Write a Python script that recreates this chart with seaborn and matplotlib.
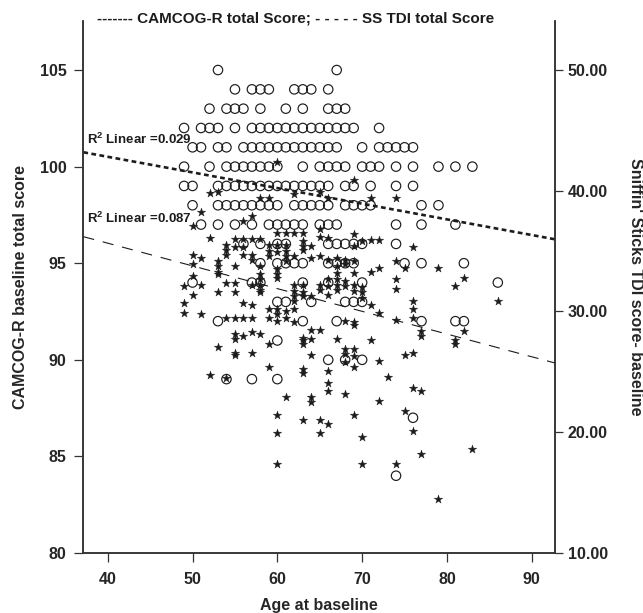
import matplotlib
matplotlib.use("Agg")
import matplotlib.pyplot as plt
import seaborn as sns
import pandas as pd
import numpy as np
from matplotlib.ticker import FormatStrFormatter

# CAMCOG-R baseline total score (open circles): one list of ages per score row
camcog_scores = [105, 104, 103, 102, 101, 100, 99, 98, 97, 96, 95, 94, 93, 92, 91, 90, 89, 87, 84]
camcog_ages = [
    [53, 67],
    [55, 57, 58, 59, 62, 63, 64, 66],
    [52, 54, 55, 56, 58, 61, 63, 66, 67, 68],
    [49, 51, 52, 53, 55, 57, 58, 59, 60, 61, 62, 63, 64, 65, 66, 67, 68, 69, 72],
    [50, 51, 53, 54, 56, 57, 58, 59, 60, 61, 62, 63, 64, 65, 66, 67, 70, 72, 73, 74, 75, 76],
    [49, 52, 54, 55, 56, 57, 58, 59, 60, 63, 65, 66, 67, 68, 70, 71, 72, 74, 76, 79, 81, 83],
    [49, 50, 53, 54, 55, 56, 57, 58, 59, 60, 61, 62, 63, 64, 65, 66, 68, 69, 71, 74, 76],
    [50, 53, 54, 55, 56, 57, 58, 59, 60, 62, 63, 64, 65, 66, 68, 69, 70, 71, 77, 79],
    [51, 53, 55, 57, 59, 60, 61, 62, 63, 65, 66, 67, 74, 77, 81],
    [56, 58, 60, 61, 66, 67, 68, 69, 70, 74],
    [58, 60, 61, 62, 63, 66, 67, 68, 69, 75, 77, 82],
    [50, 57, 58, 63, 66, 70, 86],
    [60, 61, 64, 68, 69, 70],
    [53, 63, 67, 77, 81, 82],
    [60],
    [66, 68, 70],
    [54, 57, 60],
    [76],
    [74],
]

# Sniffin' Sticks TDI score (stars): one list of scores per age
tdi_ages = [49, 50, 51, 52, 53, 54, 55, 56, 57, 58, 59, 60, 61, 62, 63, 64, 65, 66, 67,
            68, 69, 70, 71, 72, 73, 74, 75, 76, 77, 79, 81, 82, 83, 86]
tdi_scores = [
    [32.1, 30.7, 29.9],
    [37.1, 34.7, 33.9, 32.9, 31.4],
    [38.2, 34.4, 32.2, 29.8],
    [39.8, 36.1, 24.7],
    [39.9, 34.2, 33.8, 33.3, 33.1, 31.6, 27.1],
    [35.5, 35.1, 34.7, 32.4, 29.5, 24.5],
    [36.0, 35.3, 33.8, 32.4, 31.6, 29.5, 28.1, 27.7, 26.6, 26.4],
    [37.5, 36.0, 35.3, 34.7, 30.7, 29.5, 28.0],
    [37.9, 36.0, 34.7, 34.3, 32.2, 30.5, 29.5, 28.3, 26.6],
    [39.4, 36.0, 33.8, 33.1, 32.7, 32.2, 31.8, 31.6, 28.1],
    [39.4, 35.5, 35.0, 34.6, 30.2, 29.5, 27.3, 25.4],
    [42.4, 36.5, 35.5, 34.9, 33.5, 33.1, 32.8, 30.2, 29.8, 29.2, 21.4, 19.9, 17.4],
    [36.5, 35.5, 35.0, 34.6, 34.2, 30.0, 29.5, 22.9],
    [39.7, 36.5, 34.6, 32.2, 31.7, 31.3, 30.9, 30.2, 29.1],
    [36.5, 35.8, 35.4, 35.1, 32.2, 31.6, 31.3, 27.8, 27.6, 27.3, 25.2, 24.9, 21.0],
    [35.4, 34.4, 31.3, 28.5, 27.7, 26.4, 22.9, 22.5],
    [39.9, 36.8, 36.2, 34.6, 32.2, 31.8, 28.5, 21.0, 19.9],
    [39.4, 36.1, 34.3, 32.7, 32.1, 31.4, 25.1, 24.1, 23.4, 20.7],
    [34.4, 33.8, 33.2, 32.7, 32.2, 31.8, 27.7],
    [34.3, 33.9, 32.5, 32.1, 29.2, 26.9, 26.5, 25.8, 23.2],
    [40.9, 36.4, 35.4, 34.2, 33.2, 32.2, 31.7, 29.1, 28.9, 26.9, 26.3, 25.4, 21.4],
    [35.8, 32.0, 31.6, 31.1, 19.6, 17.4],
    [39.4, 35.9, 33.3, 30.5, 27.6],
    [35.9, 33.6, 29.9, 25.9, 22.6],
    [24.6],
    [39.4, 34.2, 32.7, 31.9, 29.3, 17.4],
    [33.6, 26.4, 21.8],
    [35.3, 30.9, 30.2, 29.5, 26.6, 23.7, 20.1],
    [28.4, 28.0, 23.4, 18.2],
    [33.6, 14.5],
    [32.1, 27.6, 27.3],
    [32.8, 28.4],
    [18.6],
    [30.9],
]

# linear fits: (intercept, slope) and R squared
camcog_fit = (103.75, -0.081)
tdi_fit = (43.18, -0.1881)
camcog_r2 = 0.029
tdi_r2 = 0.087

cam_df = pd.DataFrame([(a, s) for s, ages in zip(camcog_scores, camcog_ages) for a in ages],
                      columns=["age", "camcog"])
tdi_df = pd.DataFrame([(a, t) for a, vals in zip(tdi_ages, tdi_scores) for t in vals],
                      columns=["age", "tdi"])

sns.set_style("ticks")
plt.rcParams['font.family'] = ['Liberation Sans', 'DejaVu Sans']
plt.rcParams['font.weight'] = 'bold'
plt.rcParams['mathtext.fontset'] = 'custom'
plt.rcParams['mathtext.rm'] = 'Liberation Sans:bold'
plt.rcParams['mathtext.bf'] = 'Liberation Sans:bold'
ink = '#1c1c1c'

fig = plt.figure(figsize=(6.43, 6.13), dpi=100)
ax = fig.add_axes([0.1296, 0.0979, 0.7336, 0.8679])
ax2 = ax.twinx()

sns.scatterplot(data=cam_df, x="age", y="camcog", ax=ax, marker="o", s=46,
                facecolor="none", edgecolor=ink, linewidth=0.85, zorder=3)
sns.scatterplot(data=tdi_df, x="age", y="tdi", ax=ax2, marker="*", s=40,
                color=ink, edgecolor=ink, linewidth=0.3, zorder=3)

ax.set_xlim(37.12, 92.75)
ax.set_ylim(80, 107.54)
ax2.set_ylim(10, 54.06)

# fit lines
ax.axline((0, camcog_fit[0]), slope=camcog_fit[1], color=ink, lw=1.9,
          dashes=(1.8, 1.3), zorder=4)
ax2.axline((0, tdi_fit[0]), slope=tdi_fit[1], color=ink, lw=0.8,
           dashes=(10, 8), zorder=4)

ax.text(0.008, 0.778, r"R$^{\mathbf{2}}$ Linear =%.3f" % camcog_r2, transform=ax.transAxes,
        fontsize=9.5, fontweight='bold', ha='left', va='center', color=ink)
ax.text(0.008, 0.628, r"R$^{\mathbf{2}}$ Linear =%.3f" % tdi_r2, transform=ax.transAxes,
        fontsize=9.5, fontweight='bold', ha='left', va='center', color=ink)

ax.set_xticks([40, 50, 60, 70, 80, 90])
ax.set_yticks([80, 85, 90, 95, 100, 105])
ax2.set_yticks([10, 20, 30, 40, 50])
ax2.yaxis.set_major_formatter(FormatStrFormatter('%.2f'))

for a in (ax, ax2):
    a.spines['top'].set_visible(False)
    for sp in a.spines.values():
        sp.set_linewidth(1.1)
        sp.set_color('#333333')
    a.grid(False)
ax.tick_params(axis='x', direction='out', length=6.5, width=0.9, labelsize=11.5, pad=7.5, color='#333333')
ax.tick_params(axis='y', direction='out', length=6.5, width=0.9, labelsize=11.5, pad=5.5, color='#333333')
ax2.tick_params(axis='y', direction='out', length=6, width=0.9, labelsize=11.5, pad=3, color='#333333')

ax.set_xlabel("Age at baseline", fontsize=11.5, fontweight='bold', va='center')
ax.xaxis.set_label_coords(0.5, -0.0996)
ax.set_ylabel("CAMCOG-R baseline total score", fontsize=11.5, fontweight='bold', va='center')
ax.yaxis.set_label_coords(-0.134, 0.5)
ax2.set_ylabel("Sniffin' Sticks TDI score- baseline", fontsize=11.5, fontweight='bold',
               rotation=270, va='center')
ax2.yaxis.set_label_coords(1.1696, 0.5)

fig.text(0.4596, 0.9701, "------- CAMCOG-R total Score; - - - - - SS TDI total Score",
         fontsize=11, fontweight='bold', ha='center', va='center', color=ink)

fig.savefig("out.png", dpi=100)
